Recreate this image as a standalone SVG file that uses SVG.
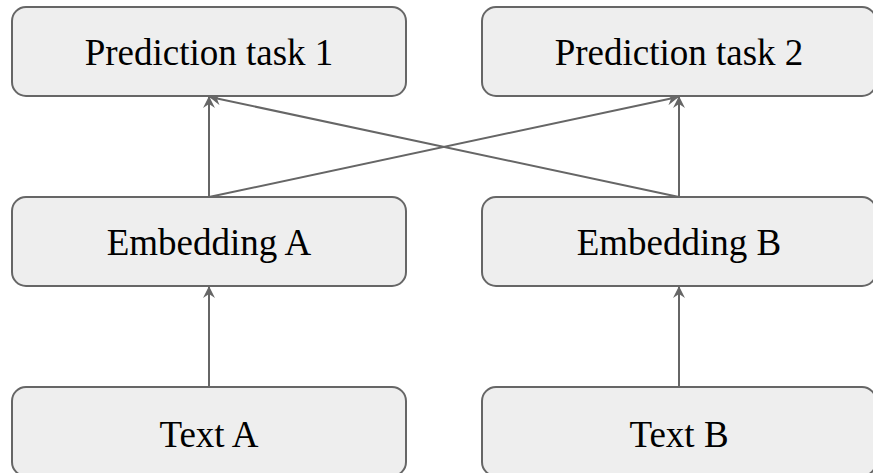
<svg xmlns="http://www.w3.org/2000/svg" width="873" height="473" viewBox="0 0 873 473">
<style>
.box{fill:#eeeeee;stroke:#666666;stroke-width:2}
.lbl{font-family:"Liberation Serif","Times New Roman",serif;font-size:37px;fill:#000;text-anchor:middle}
.edge{stroke:#666666;stroke-width:2;fill:none;marker-end:url(#arr)}
</style>
<defs>
<marker id="arr" markerUnits="userSpaceOnUse" markerWidth="14" markerHeight="12" refX="11" refY="6" orient="auto">
<path d="M0,0 L12,6 L0,12 L4,6 z" fill="#666666"/>
</marker>
</defs>
<rect width="873" height="473" fill="#ffffff"/>
<g id="connectors">
<line class="edge" x1="209" y1="197" x2="209" y2="97"/>
<line class="edge" x1="679" y1="197" x2="679" y2="97"/>
<line class="edge" x1="209" y1="197" x2="678" y2="97"/>
<line class="edge" x1="679" y1="197" x2="210" y2="97"/>
<line class="edge" x1="209" y1="387" x2="209" y2="287"/>
<line class="edge" x1="679" y1="387" x2="679" y2="287"/>
</g>
<g id="task1"><rect class="box" x="12" y="7" width="394" height="89" rx="14"/><text class="lbl" x="209" y="65">Prediction task 1</text></g>
<g id="task2"><rect class="box" x="482" y="7" width="394" height="89" rx="14"/><text class="lbl" x="679" y="65">Prediction task 2</text></g>
<g id="embA"><rect class="box" x="12" y="197" width="394" height="89" rx="14"/><text class="lbl" x="209" y="255">Embedding A</text></g>
<g id="embB"><rect class="box" x="482" y="197" width="394" height="89" rx="14"/><text class="lbl" x="679" y="255">Embedding B</text></g>
<g id="textA"><rect class="box" x="12" y="387" width="394" height="89" rx="14"/><text class="lbl" x="209" y="447">Text A</text></g>
<g id="textB"><rect class="box" x="482" y="387" width="394" height="89" rx="14"/><text class="lbl" x="679" y="447">Text B</text></g>
</svg>
